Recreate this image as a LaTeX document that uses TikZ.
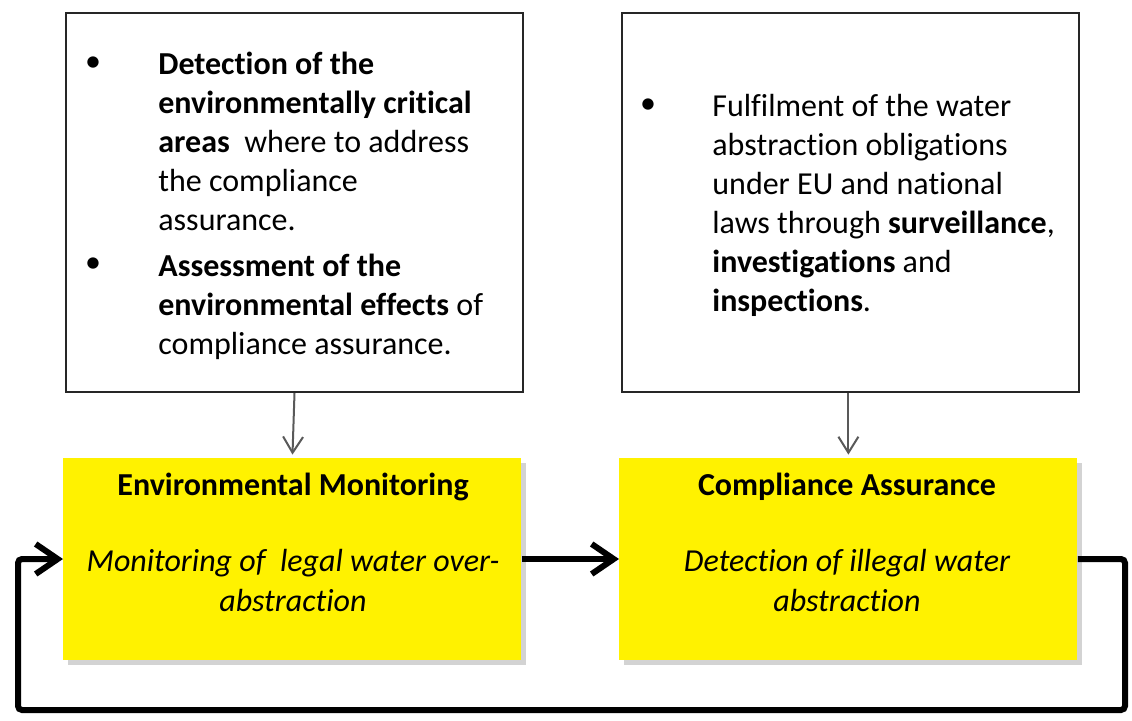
\documentclass[tikz,border=0pt]{standalone}
\usepackage{fontspec}
\setmainfont{Carlito}[Ligatures={NoCommon}]
\usetikzlibrary{arrows.meta,shadows}

\tikzset{
	infobox/.style={draw=black!85, line width=1pt, minimum width=228.5pt, minimum height=189.5pt},
	stagebox/.style={fill=yellow, minimum width=229pt, minimum height=101pt, drop shadow={shadow xshift=2.5pt, shadow yshift=-2.5pt, opacity=0.35}},
	listtext/.style={anchor=north west, inner sep=0pt, align=left, font=\fontsize{16}{19.5}\selectfont},
	stagetext/.style={anchor=north, inner sep=0pt, align=center, font=\fontsize{16}{20}\selectfont\itshape},
	stagetitle/.style={anchor=base, inner sep=0pt, font=\fontsize{16}{19.5}\selectfont\bfseries},
	dot/.style={inner sep=0pt, font=\fontsize{16}{19.5}\selectfont},
	feed/.style={line width=3pt, -{Straight Barb[length=11pt, width=15pt]}},
	link/.style={draw=black!65, line width=1pt, shorten >=1.5pt, -{Straight Barb[length=8pt, width=10pt]}}
}

\begin{document}
\begin{tikzpicture}[x=0.5pt, y=-0.5pt]

	\useasboundingbox (0, 0) rectangle (1132, 720);

	\draw (65, 202.5) node (areas) [right, infobox] {};
	\draw (621, 202.5) node (duties) [right, infobox] {};

	\draw (93, 64) node (dotone) [dot] {\textbullet};
	\draw (93, 265) node (dottwo) [dot] {\textbullet};
	\draw (158, 52) node (areastext) [listtext] {\textbf{Detection of the}\\ \textbf{environmentally critical}\\ \textbf{areas}\ \ where to address\\ the compliance\\ assurance.\\[3.5pt] \textbf{Assessment of the}\\ \textbf{environmental effects} of\\ compliance assurance.};

	\draw (648, 106) node (dotthree) [dot] {\textbullet};
	\draw (712, 94) node (dutiestext) [listtext] {Fulfilment of the water\\ abstraction obligations\\ under EU and national\\ laws through \textbf{surveillance},\\ \textbf{investigations} and\\ \textbf{inspections}.};

	\draw (63, 559) node (monitor) [right, stagebox] {};
	\draw (619, 559) node (assure) [right, stagebox] {};

	\draw (293, 495) node (monitortitle) [stagetitle] {Environmental Monitoring};
	\draw (293, 549) node (monitortext) [stagetext] {Monitoring of\ \ legal water over-\\ abstraction};

	\draw (847, 495) node (assuretitle) [stagetitle] {Compliance Assurance};
	\draw (847, 549) node (assuretext) [stagetext] {Detection of illegal water\\ abstraction};

	\draw[link] (areas.south) -- (monitor.north);
	\draw[link] (duties.south -| assure.north) -- (assure.north);

	\draw[feed] (monitor.east) -- (assure.west);

	\coordinate (loopse) at (1125, 710);
	\coordinate (loopsw) at (18, 710);
	\draw[feed, rounded corners=2pt] (assure.east) -| (loopse) -- (loopsw) |- (monitor.west);

\end{tikzpicture}
\end{document}
